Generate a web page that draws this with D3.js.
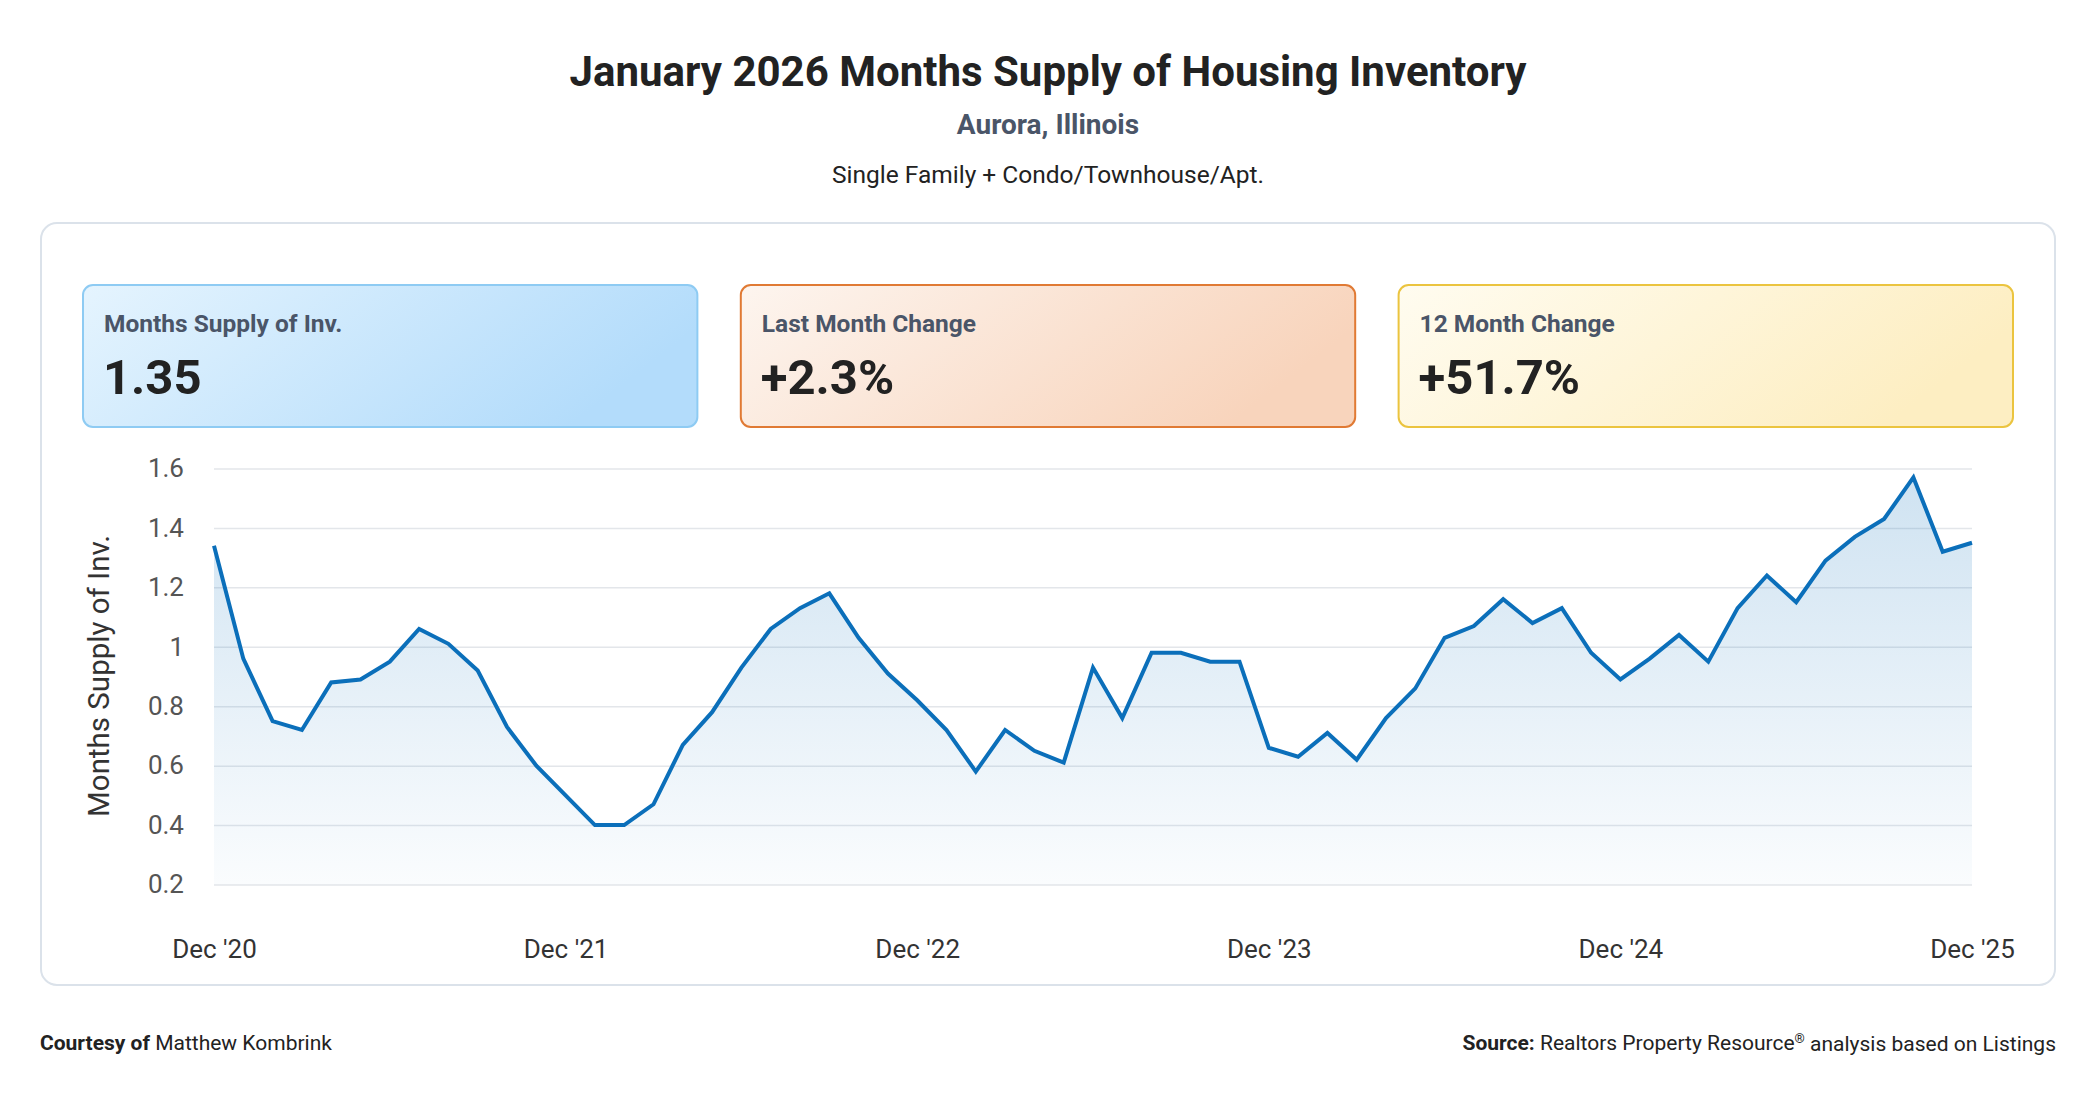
<!DOCTYPE html>
<html>
<head>
<meta charset="utf-8">
<script src="https://cdn.jsdelivr.net/npm/d3@7"></script>
<style>
  html, body { margin: 0; padding: 0; background: #fff; }
  svg { display: block; font-family: Roboto, "Noto Sans", sans-serif; }
</style>
</head>
<body>
<svg id="chart" width="2096" height="1100"></svg>
<script>
// monthly months supply, Dec 2020 .. Dec 2025
const supply = [
  1.34, 0.96, 0.75, 0.72, 0.88, 0.89, 0.95, 1.06, 1.01, 0.92, 0.73, 0.60,
  0.50, 0.40, 0.40, 0.47, 0.67, 0.78, 0.93, 1.06, 1.13, 1.18, 1.03, 0.91,
  0.82, 0.72, 0.58, 0.72, 0.65, 0.61, 0.93, 0.76, 0.98, 0.98, 0.95, 0.95,
  0.66, 0.63, 0.71, 0.62, 0.76, 0.86, 1.03, 1.07, 1.16, 1.08, 1.13, 0.98,
  0.89, 0.96, 1.04, 0.95, 1.13, 1.24, 1.15, 1.29, 1.37, 1.43, 1.57, 1.32,
  1.35
];
const months = d3.timeMonth.range(new Date(2020, 11, 1), new Date(2026, 0, 1));
const xTickLabels = ["Dec '20", "Dec '21", "Dec '22", "Dec '23", "Dec '24", "Dec '25"];
const yTicks = [0.2, 0.4, 0.6, 0.8, 1, 1.2, 1.4, 1.6];

const cardLabels = ["Months Supply of Inv.", "Last Month Change", "12 Month Change"];
const cardValues = ["1.35", "+2.3%", "+51.7%"];
const cardColors = [
  { from: "#e5f4fe", to: "#b3dcfb", border: "#8ecbf3" },
  { from: "#fdf5ef", to: "#f8d4bc", border: "#e07a34" },
  { from: "#fffcf0", to: "#fdeec2", border: "#ebc43f" }
];

const svg = d3.select("#chart");
const defs = svg.append("defs");

// headings
svg.append("text").attr("x", 1048).attr("y", 71).attr("dy", "0.35em")
  .attr("text-anchor", "middle").attr("font-size", 42).attr("font-weight", 700)
  .attr("fill", "#222").text("January 2026 Months Supply of Housing Inventory");
svg.append("text").attr("x", 1048).attr("y", 124).attr("dy", "0.35em")
  .attr("text-anchor", "middle").attr("font-size", 28).attr("font-weight", 700)
  .attr("fill", "#4a5568").text("Aurora, Illinois");
svg.append("text").attr("x", 1048).attr("y", 174).attr("dy", "0.35em")
  .attr("text-anchor", "middle").attr("font-size", 24.5)
  .attr("fill", "#222").text("Single Family + Condo/Townhouse/Apt.");

// panel
svg.append("rect").attr("x", 41).attr("y", 223).attr("width", 2014).attr("height", 762)
  .attr("rx", 16).attr("fill", "#fff").attr("stroke", "#dbe2ea").attr("stroke-width", 2);

// stat cards
const cardX = d3.scaleBand().domain(d3.range(3)).range([83, 2013]).paddingInner(0.066);
cardColors.forEach((c, i) => {
  const g = defs.append("linearGradient").attr("id", "card" + i)
    .attr("x1", "0%").attr("y1", "0%").attr("x2", "100%").attr("y2", "30%");
  g.append("stop").attr("offset", "0%").attr("stop-color", c.from);
  g.append("stop").attr("offset", "100%").attr("stop-color", c.to);
});
const cards = svg.selectAll("g.card").data(cardLabels).enter().append("g")
  .attr("class", "card")
  .attr("transform", (d, i) => `translate(${cardX(i)},285)`);
cards.append("rect").attr("x", 0).attr("y", 0)
  .attr("width", cardX.bandwidth()).attr("height", 142).attr("rx", 10)
  .attr("fill", (d, i) => `url(#card${i})`)
  .attr("stroke", (d, i) => cardColors[i].border).attr("stroke-width", 2);
cards.append("text").attr("x", 21).attr("y", 38).attr("dy", "0.35em")
  .attr("font-size", 24.5).attr("font-weight", 700).attr("fill", "#4a5568")
  .text(d => d);
cards.append("text").attr("x", 20).attr("y", 92).attr("dy", "0.35em")
  .attr("font-size", 49).attr("font-weight", 700).attr("fill", "#222")
  .text((d, i) => cardValues[i]);

// line chart
const x = d3.scalePoint().domain(d3.range(months.length)).range([214, 1972]);
const y = d3.scaleLinear().domain([0.2, 1.6]).range([884.5, 468.5]);

const grid = svg.append("g").attr("transform", "translate(214,0)")
  .call(d3.axisLeft(y).tickValues(yTicks).tickSize(-1758).tickPadding(30)
    .tickFormat(d => d3.format("~g")(d)));
grid.select(".domain").remove();
grid.selectAll(".tick line").attr("stroke", "#e3e6ea").attr("stroke-width", 1.5);
grid.selectAll(".tick text").attr("font-size", 26).attr("fill", "#555")
  .attr("font-family", "Roboto");

const decIdx = d3.range(0, months.length, 12);
const xAxis = svg.append("g").attr("transform", "translate(0,934)")
  .call(d3.axisBottom(x).tickValues(decIdx).tickSize(0).tickPadding(6)
    .tickFormat((d, i) => xTickLabels[i]));
xAxis.select(".domain").remove();
xAxis.selectAll(".tick text").attr("font-size", 26).attr("fill", "#333")
  .attr("font-family", "Roboto");

svg.append("text")
  .attr("transform", "translate(99,676) rotate(-90)")
  .attr("text-anchor", "middle").attr("dy", "0.35em")
  .attr("font-size", 29.5).attr("fill", "#333")
  .text("Months Supply of Inv.");

const areaGrad = defs.append("linearGradient").attr("id", "areaFill")
  .attr("gradientUnits", "userSpaceOnUse")
  .attr("x1", 0).attr("y1", y(1.6)).attr("x2", 0).attr("y2", y(0.2));
areaGrad.append("stop").attr("offset", "0%").attr("stop-color", "#0b6fba").attr("stop-opacity", 0.2);
areaGrad.append("stop").attr("offset", "100%").attr("stop-color", "#0b6fba").attr("stop-opacity", 0.02);

svg.append("path").datum(supply)
  .attr("fill", "url(#areaFill)")
  .attr("d", d3.area().x((d, i) => x(i)).y0(y(0.2)).y1(d => y(d)));

svg.append("path").datum(supply)
  .attr("fill", "none").attr("stroke", "#0b6fba").attr("stroke-width", 4)
  .attr("stroke-linejoin", "miter")
  .attr("d", d3.line().x((d, i) => x(i)).y(d => y(d)));

// footer
const foot = svg.append("text").attr("x", 40).attr("y", 1043).attr("dy", "0.35em")
  .attr("font-size", 21).attr("fill", "#222");
foot.append("tspan").attr("font-weight", 700).text("Courtesy of ");
foot.append("tspan").text("Matthew Kombrink");

const src = svg.append("text").attr("x", 2056).attr("y", 1043).attr("dy", "0.35em")
  .attr("text-anchor", "end").attr("font-size", 21).attr("fill", "#222");
src.append("tspan").attr("font-weight", 700).text("Source: ");
src.append("tspan").text("Realtors Property Resource");
src.append("tspan").attr("font-size", 13).attr("dy", "-0.6em").text("®");
src.append("tspan").attr("dy", "0.42em").text(" analysis based on Listings");
</script>
</body>
</html>
